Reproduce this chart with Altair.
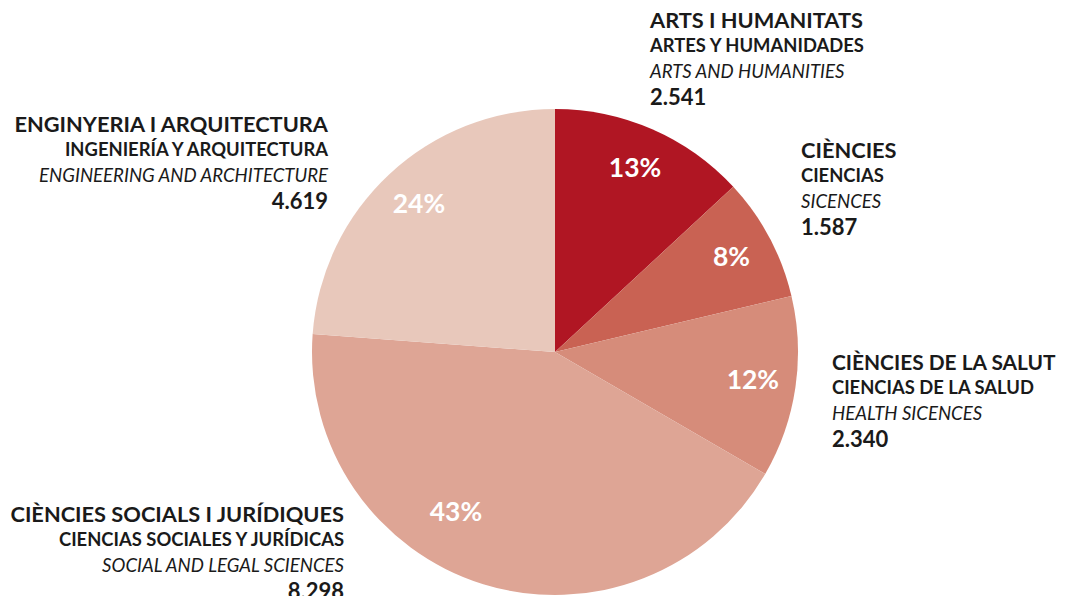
import altair as alt
import pandas as pd

# ---- data ----
cat_ca = ["ARTS I HUMANITATS", "CIÈNCIES", "CIÈNCIES DE LA SALUT",
          "CIÈNCIES SOCIALS I JURÍDIQUES", "ENGINYERIA I ARQUITECTURA"]
cat_es = ["ARTES Y HUMANIDADES", "CIENCIAS", "CIENCIAS DE LA SALUD",
          "CIENCIAS SOCIALES Y JURÍDICAS", "INGENIERÍA Y ARQUITECTURA"]
cat_en = ["ARTS AND HUMANITIES", "SICENCES", "HEALTH SICENCES",
          "SOCIAL AND LEGAL SCIENCES", "ENGINEERING AND ARCHITECTURE"]
values = [2541, 1587, 2340, 8298, 4619]
value_labels = ["2.541", "1.587", "2.340", "8.298", "4.619"]
colors = ["#B01623", "#C96253", "#D68C7A", "#DEA595", "#E8C8BB"]

total = sum(values)
df = pd.DataFrame({
    "order": list(range(len(values))),
    "cat": cat_ca,
    "value": values,
    "pct": [f"{round(v / total * 100)}%" for v in values],
})

W, H = 1051, 588
CX, CY, R = 547, 344, 243
FONT = "Lato"
TAU = 6.283185307179586

theta_scale = alt.Scale(domain=[0, total], range=[0, TAU])

base = alt.Chart(df).transform_window(
    cum="sum(value)", sort=[alt.SortField("order")], frame=[None, 0]
).transform_calculate(
    start="datum.cum - datum.value", mid="datum.cum - datum.value / 2"
).encode(x=alt.value(CX), y=alt.value(CY))

pie = base.mark_arc(radius=R, stroke=None).encode(
    theta=alt.Theta("start:Q", scale=theta_scale),
    theta2="cum:Q",
    color=alt.Color("cat:N", scale=alt.Scale(domain=cat_ca, range=colors), legend=None),
)

pct_style = dict(radius=200, font=FONT, fontSize=26.5, fontWeight="bold", color="white")
pct = base.mark_text(**pct_style).encode(
    theta=alt.Theta("mid:Q", scale=theta_scale), text="pct:N"
).transform_filter("datum.order != 3")
pct_big = base.mark_text(dx=-40, dy=-30, **pct_style).encode(
    theta=alt.Theta("mid:Q", scale=theta_scale), text="pct:N"
).transform_filter("datum.order == 3")

# label anchor layout (page px of first-line baseline, minus 8px margin), alignment, title size
layout = [
    (642, 20, "left", 21.8),
    (793, 150, "left", 21.8),
    (824, 362, "left", 20.9),
    (336, 514, "right", 21.8),
    (320, 124, "right", 21.8),
]
line_specs = [  # (dy, size, weight, style)
    (0, None, "bold", "normal"),
    (24, 18.4, "bold", "normal"),
    (50, 18.6, "normal", "italic"),
    (77, 22, "bold", "normal"),
]

layers = [pie, pct, pct_big]
for i in range(len(values)):
    texts = [cat_ca[i], cat_es[i], cat_en[i], value_labels[i]]
    x0, y0, al, tsize = layout[i]
    for t, (dy, size, weight, style) in zip(texts, line_specs):
        layers.append(
            alt.Chart(pd.DataFrame({"t": [t]})).mark_text(
                font=FONT, fontSize=size if size else tsize, fontWeight=weight,
                fontStyle=style, align=al, baseline="alphabetic", color="#1a1a1a",
            ).encode(text="t:N", x=alt.value(x0), y=alt.value(y0 + dy))
        )

chart = alt.layer(*layers).properties(
    width=W, height=H, padding=0,
    autosize=alt.AutoSizeParams(type="none"),
).configure_view(stroke=None)

chart.save("out.html", embed_options={"renderer": "svg", "actions": False})
